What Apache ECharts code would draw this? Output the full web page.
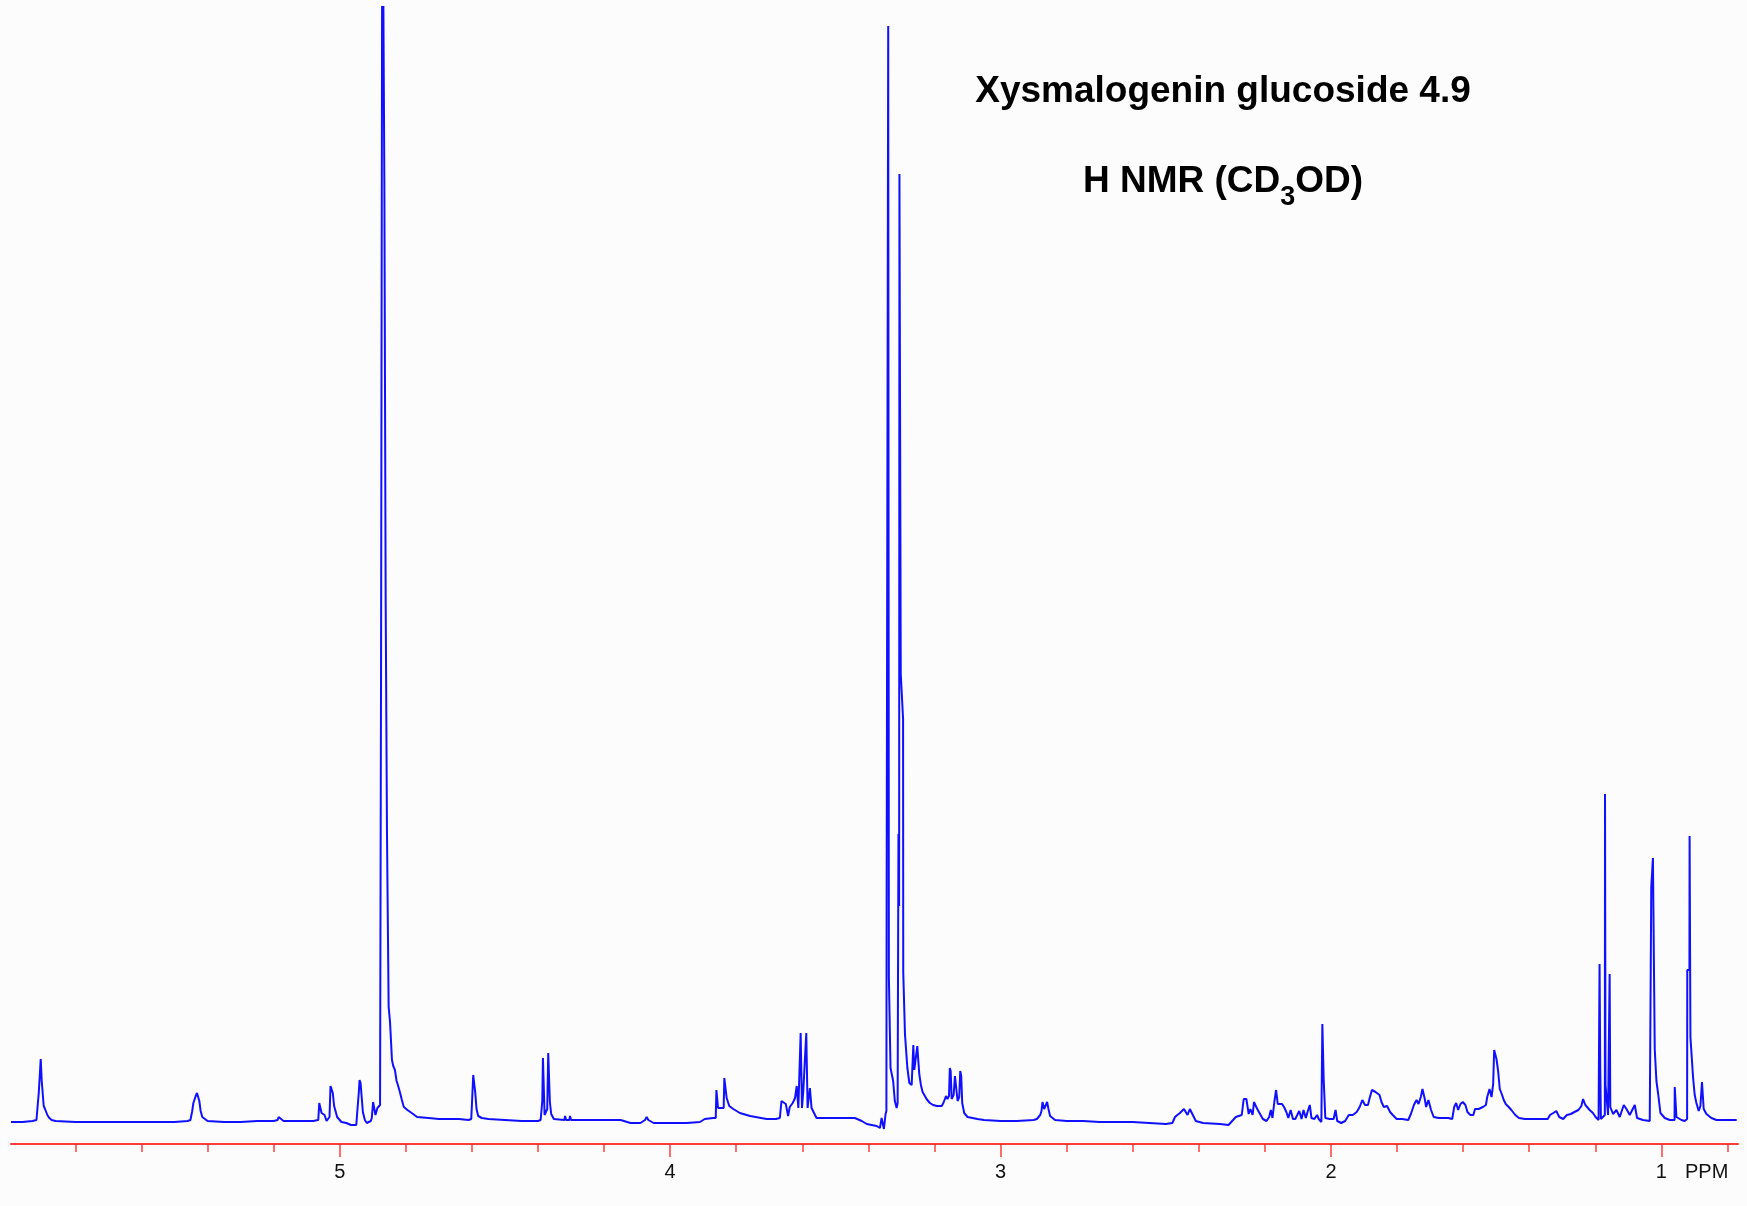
<!DOCTYPE html>
<html>
<head>
<meta charset="utf-8">
<title>Xysmalogenin glucoside 4.9 - 1H NMR (CD3OD)</title>
<script src="https://cdn.jsdelivr.net/npm/echarts@6/dist/echarts.min.js"></script>
<style>
  html, body { margin: 0; padding: 0; background: #fcfcfc; }
  #chart { width: 1747px; height: 1206px; }
</style>
</head>
<body>
<div id="chart"></div>
<script>
// Chemical shift (ppm) and intensity pairs, low field to high field.
const spectrumLowField = [
  [5.995,-1],[5.96,-1],[5.93,0],[5.918,1],[5.913,3],[5.911,28],[5.908,30],[5.905,62],[5.902,40],[5.899,38],
  [5.896,15],[5.892,12],[5.889,13],[5.885,6],[5.879,3],[5.872,1],[5.86,0],[5.80,-1],[5.70,-1],[5.60,-1],
  [5.50,-1],[5.46,0],[5.452,1],[5.447,9],[5.443,18],[5.440,20],[5.436,25],[5.432,28],[5.428,26],[5.425,20],
  [5.421,10],[5.416,4],[5.410,2],[5.400,0],[5.35,-1],[5.30,-1],[5.25,0],[5.20,0],[5.188,1],[5.185,4],
  [5.180,2],[5.170,0],[5.12,0],[5.08,0],[5.065,1],[5.062,18],[5.058,18],[5.055,8],[5.046,6],[5.040,0],
  [5.036,-2],[5.031,4],[5.028,35],[5.024,33],[5.021,28],[5.017,15],[5.012,9],[5.008,4],[4.995,-1],[4.980,-2],
  [4.966,-4],[4.950,-4],[4.946,-2],[4.942,30],[4.940,41],[4.937,38],[4.934,36],[4.930,9],[4.924,1],[4.918,-2],
  [4.912,-4],[4.906,0],[4.903,3],[4.899,19],[4.896,19],[4.892,6],[4.889,4],[4.886,13],[4.882,15],[4.878,16]
];

// Residual HOD signal; its top runs off the plotted range.
const spectrumSolventHOD = [
  [4.876,16],[4.875,449],[4.872,449],[4.871,1300],[4.866,1300],[4.865,940],[4.862,940],[4.861,520],[4.858,520],
  [4.857,287],[4.853,287],[4.852,114],[4.848,100],[4.845,81],[4.842,61],[4.838,55],[4.833,51],[4.828,40],
  [4.824,36],[4.818,29],[4.812,21],[4.806,14],[4.795,11],[4.778,7],[4.766,4],[4.731,3],[4.70,2],[4.639,2],[4.61,1]
];

const spectrumSugarRegion = [
  [4.602,2],[4.600,16],[4.596,46],[4.593,46],[4.590,29],[4.586,12],[4.581,5],[4.570,3],[4.55,2],[4.50,1],
  [4.45,0],[4.40,0],[4.392,1],[4.389,12],[4.387,20],[4.385,63],[4.382,63],[4.380,6],[4.374,4],[4.372,12],
  [4.369,68],[4.366,68],[4.364,19],[4.360,7],[4.352,2],[4.320,1],[4.318,5],[4.315,1],[4.305,1],[4.303,5],
  [4.300,1],[4.28,1],[4.20,1],[4.15,1],[4.12,-2],[4.09,-2],[4.076,1],[4.071,4],[4.066,1],[4.05,-2],
  [4.0,-2],[3.95,-2],[3.91,-1],[3.895,2],[3.870,3],[3.862,3],[3.860,31],[3.857,31],[3.855,13],[3.849,13],
  [3.838,13],[3.836,43],[3.833,43],[3.829,23],[3.821,15],[3.809,12],[3.789,8],[3.758,5],[3.708,2],[3.68,2],
  [3.668,3],[3.663,20],[3.659,22],[3.650,17],[3.643,5],[3.638,14],[3.629,18],[3.622,23],[3.617,35],[3.612,13],
  [3.606,13],[3.605,88],[3.602,88],[3.601,13],[3.597,30],[3.592,28],[3.588,88],[3.585,88],[3.584,13],[3.577,33],
  [3.572,13],[3.557,3],[3.51,3],[3.476,3],[3.441,3],[3.42,0],[3.405,-3],[3.375,-5],[3.365,-7],[3.360,3],
  [3.353,-8],[3.348,7]
];

// CHD2OD residual and neighbouring multiplets.
const spectrumMethanolRegion = [
  [3.3455,10],[3.3447,240],[3.3405,240],[3.3400,1095],[3.3385,1095],[3.3380,144],[3.3347,144],[3.3330,53],
  [3.327,51],[3.325,40],[3.320,20],[3.3145,13],[3.3115,18],[3.3090,287],[3.3070,215],[3.3060,947],[3.3030,947],
  [3.3020,447],[3.2963,447],[3.2950,402],[3.2945,149],[3.2893,87],[3.282,53],[3.276,38],[3.269,36],[3.264,76],
  [3.261,51],[3.252,75],[3.248,73],[3.246,47],[3.241,36],[3.236,29],[3.229,25],[3.224,22],[3.214,18],[3.204,16],
  [3.193,15],[3.178,15],[3.173,18],[3.165,25],[3.161,22],[3.156,25],[3.1535,53],[3.151,50],[3.148,22],[3.142,26],
  [3.138,45],[3.134,44],[3.130,20],[3.125,24],[3.122,50],[3.119,45],[3.116,18],[3.110,8],[3.100,4],[3.085,3],
  [3.070,2],[3.05,1],[3.0,0]
];

const spectrumAliphatic = [
  [2.95,0],[2.90,1],[2.890,2],[2.880,6],[2.876,10],[2.873,19],[2.868,12],[2.864,14],[2.859,19],[2.855,12],
  [2.850,5],[2.845,3],[2.835,1],[2.80,0],[2.75,0],[2.70,-1],[2.60,-1],[2.55,-2],[2.50,-3],[2.48,-2],
  [2.472,4],[2.465,6],[2.457,8],[2.445,12],[2.434,6],[2.427,12],[2.421,13],[2.415,4],[2.409,0],[2.387,-2],
  [2.336,-3],[2.310,-4],[2.299,0],[2.288,4],[2.270,6],[2.264,22],[2.256,22],[2.249,7],[2.244,12],[2.237,6],
  [2.233,19],[2.226,14],[2.218,9],[2.206,2],[2.195,0],[2.187,4],[2.182,11],[2.177,3],[2.171,20],[2.166,31],
  [2.161,17],[2.155,15],[2.148,17],[2.142,14],[2.135,9],[2.129,3],[2.122,11],[2.115,2],[2.108,2],[2.096,10],
  [2.089,2],[2.083,11],[2.076,3],[2.070,10],[2.064,16],[2.059,3],[2.050,2],[2.042,6],[2.037,2],[2.029,-1],
  [2.027,0],[2.026,97],[2.024,97],[2.022,42],[2.019,42],[2.017,3],[2.004,2],[1.992,2],[1.986,11],[1.981,0],
  [1.969,-2],[1.957,0],[1.946,6],[1.934,6],[1.922,9],[1.913,14],[1.905,21],[1.897,16],[1.888,16],[1.882,24],
  [1.876,31],[1.865,29],[1.853,26],[1.847,19],[1.840,14],[1.830,15],[1.821,9],[1.813,6],[1.801,2],[1.784,2],
  [1.766,1],[1.758,7],[1.749,16],[1.741,21],[1.735,17],[1.728,24],[1.723,32],[1.716,22],[1.712,14],[1.705,21],
  [1.697,11],[1.689,4],[1.674,3],[1.656,3],[1.645,3],[1.633,2],[1.627,14],[1.621,18],[1.615,11],[1.608,17],
  [1.601,19],[1.593,16],[1.587,9],[1.578,6],[1.569,6],[1.564,12],[1.553,12],[1.540,14],[1.531,16],[1.527,24],
  [1.520,32],[1.514,24],[1.509,37],[1.506,71],[1.502,71],[1.499,62],[1.494,50],[1.489,32],[1.483,27],[1.477,21],
  [1.471,17],[1.462,14],[1.454,11],[1.442,6],[1.431,3],[1.413,2],[1.390,2],[1.368,2],[1.344,2],[1.337,6],
  [1.327,8],[1.318,10],[1.309,4],[1.297,2],[1.286,6],[1.274,7],[1.263,9],[1.251,11],[1.242,15],[1.237,22],
  [1.230,16],[1.225,16],[1.217,11],[1.207,8],[1.199,4],[1.190,1]
];

// Steroid methyl singlets and doublets.
const spectrumMethyls = [
  [1.1880,0],[1.1875,2],[1.1870,157],[1.1855,157],[1.1850,57],[1.1835,57],[1.1830,2],[1.1790,4],[1.1710,6],
  [1.1705,327],[1.1695,327],[1.1690,36],[1.1661,36],[1.1613,6],[1.1570,8],[1.1565,147],[1.1550,147],[1.1545,14],
  [1.1531,14],[1.1462,7],[1.1359,11],[1.1259,4],[1.1138,16],[1.1056,12],[1.0956,6],[1.0805,16],[1.0735,3],
  [1.0554,1],[1.0351,0],[1.0310,2],[1.0305,234],[1.0260,234],[1.0255,263],[1.0205,263],[1.0200,72],[1.0149,40],
  [1.0100,28],[1.0027,8],[0.9897,3],[0.9746,1],[0.9600,1],[0.9595,34],[0.9548,34],[0.9543,4],[0.9513,4],
  [0.9392,1],[0.9292,0],[0.9220,2],[0.9215,151],[0.9150,151],[0.9145,285],[0.9125,285],[0.9120,84],[0.9090,84],
  [0.9041,44],[0.8990,26],[0.8939,18],[0.8869,10],[0.8818,15],[0.8770,39],[0.8750,39],[0.8718,12],[0.8636,7],
  [0.8485,3],[0.8334,1],[0.80,1],[0.772,1]
];

// Scale marks on the shift axis.
const majorTickPpm = [1, 2, 3, 4, 5];
const minorTickPpm = [0.8, 1.2, 1.4, 1.6, 1.8, 2.2, 2.4, 2.6, 2.8, 3.2, 3.4, 3.6, 3.8, 4.2, 4.4, 4.6, 4.8, 5.2, 5.4, 5.6, 5.8];
const tickLabelPpm = [1, 2, 3, 4, 5];

const shiftRange = { low: 0.768, high: 5.995 };
const intensityRange = { low: -23, high: 1114 };

const spectrum = [].concat(
  spectrumLowField, spectrumSolventHOD, spectrumSugarRegion,
  spectrumMethanolRegion, spectrumAliphatic, spectrumMethyls
);

const RED = '#ff3c3c';
const BLUE = '#1010ff';
const FONT = '"Liberation Sans", Arial, sans-serif';

const chart = echarts.init(document.getElementById('chart'), null, { renderer: 'canvas' });

chart.setOption({
  backgroundColor: '#fcfcfc',
  animation: false,
  grid: { left: 11, right: 9, top: 7, bottom: 62, containLabel: false },
  xAxis: [
    {
      type: 'value',
      position: 'bottom',
      inverse: true,
      min: shiftRange.low,
      max: shiftRange.high,
      axisLine: { show: true, onZero: false, lineStyle: { color: RED, width: 2 } },
      axisTick: { show: true, customValues: majorTickPpm, length: 13, lineStyle: { color: RED, width: 1.5 } },
      axisLabel: {
        show: true, customValues: tickLabelPpm, margin: 18,
        color: '#111', fontFamily: FONT, fontSize: 20,
        formatter: v => String(v)
      },
      splitLine: { show: false }
    },
    {
      type: 'value',
      position: 'bottom',
      inverse: true,
      min: shiftRange.low,
      max: shiftRange.high,
      axisLine: { show: false, onZero: false },
      axisTick: { show: true, customValues: minorTickPpm, length: 8, lineStyle: { color: RED, width: 1.5 } },
      axisLabel: { show: false },
      splitLine: { show: false }
    }
  ],
  yAxis: {
    type: 'value',
    show: false,
    min: intensityRange.low,
    max: intensityRange.high
  },
  series: [{
    type: 'line',
    xAxisIndex: 0,
    data: spectrum,
    showSymbol: false,
    symbol: 'none',
    clip: true,
    smooth: false,
    lineStyle: { color: BLUE, width: 2 }
  }],
  graphic: [
    {
      type: 'text',
      x: 1223, y: 92,
      style: {
        text: 'Xysmalogenin glucoside 4.9',
        font: 'bold 37px ' + FONT,
        fill: '#000',
        align: 'center',
        verticalAlign: 'middle'
      }
    },
    {
      type: 'text',
      x: 1223, y: 182,
      style: {
        text: '{n|H NMR (CD}{s|3}{n|OD)}',
        fill: '#000',
        align: 'center',
        verticalAlign: 'middle',
        rich: {
          n: { font: 'bold 37px ' + FONT, fill: '#000' },
          s: { font: 'bold 27px ' + FONT, fill: '#000', padding: [32, 0, 0, 0] }
        }
      }
    },
    {
      type: 'text',
      x: 1685, y: 1172,
      style: {
        text: 'PPM',
        font: '20px ' + FONT,
        fill: '#111',
        align: 'left',
        verticalAlign: 'middle'
      }
    }
  ]
});
</script>
</body>
</html>
